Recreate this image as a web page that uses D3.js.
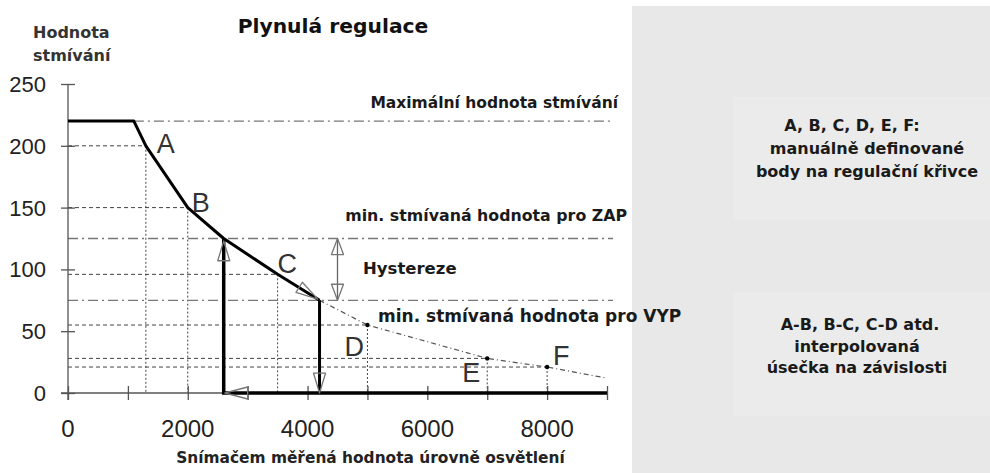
<!DOCTYPE html>
<html>
<head>
<meta charset="utf-8">
<script src="https://cdn.jsdelivr.net/npm/d3@7"></script>
<style>
  body { margin: 0; background: #fff; }
  svg { display: block; }
</style>
</head>
<body>
<svg id="chart" width="990" height="473"></svg>
<script>
// Plynula regulace - regulacni krivka s hysterezi

const xTickValues = [0, 1000, 2000, 3000, 4000, 5000, 6000, 7000, 8000, 9000];
const xTickLabels = [0, 2000, 4000, 6000, 8000];
const yTickValues = [0, 50, 100, 150, 200, 250];

// manualne definovane body
const pointNames = ["A", "B", "C", "D", "E", "F"];
const pointX = [1300, 2000, 3500, 5000, 7000, 8000];
const pointY = [200, 150, 96, 55, 28, 21];

// aktivni cast krivky (plna) a pokracovani pod VYP (tenka)
const activeCurve = [[0, 220], [1100, 220], [1300, 200], [2000, 150], [2600, 125], [3500, 96], [4200, 75]];
const offCurve = [[4200, 75], [5000, 55], [7000, 28], [8000, 21], [9000, 12]];

const maxLevel = 220;
const onLevel = 125;
const offLevel = 75;
const onX = 2600;
const offX = 4200;
const hystX = 4500;
const xMax = 9000;
const refEnd = 9100;

const note1 = ["A, B, C, D, E, F:", "manuálně definované", "body na regulační křivce"];
const note2 = ["A-B, B-C, C-D atd.", "interpolovaná", "úsečka na závislosti"];

const width = 990;
const height = 473;

const svg = d3.select("#chart");

const x = d3.scaleLinear().domain([0, 9000]).range([68, 607]);
const y = d3.scaleLinear().domain([0, 250]).range([393, 84]);

const textFont = "'DejaVu Sans', sans-serif";
const numFont = "'Liberation Sans', Arial, sans-serif";

// pravy sedy panel
svg.append("rect")
  .attr("x", 632).attr("y", 6)
  .attr("width", width - 632).attr("height", height - 6)
  .attr("fill", "#e8e8e8");
svg.append("rect")
  .attr("x", 733).attr("y", 97)
  .attr("width", width - 733).attr("height", 123)
  .attr("fill", "#ebebeb");
svg.append("rect")
  .attr("x", 733).attr("y", 292)
  .attr("width", width - 733).attr("height", 124)
  .attr("fill", "#ebebeb");

const points = pointNames.map((n, i) => ({ name: n, x: pointX[i], y: pointY[i] }));

// vodorovne carkovane k bodum
svg.append("g")
  .selectAll("line")
  .data(points)
  .enter()
  .append("line")
  .attr("x1", x(0))
  .attr("x2", (d) => x(d.x))
  .attr("y1", (d) => y(d.y))
  .attr("y2", (d) => y(d.y))
  .attr("stroke", "#444")
  .attr("stroke-width", 1)
  .attr("stroke-dasharray", "4,3");

// svisle teckovane k bodum
svg.append("g")
  .selectAll("line")
  .data(points)
  .enter()
  .append("line")
  .attr("x1", (d) => x(d.x))
  .attr("x2", (d) => x(d.x))
  .attr("y1", (d) => y(d.y))
  .attr("y2", y(0))
  .attr("stroke", "#444")
  .attr("stroke-width", 1)
  .attr("stroke-dasharray", "2,2");

// urovne (carka-tecka)
const levels = [
  { from: 1100, value: maxLevel },
  { from: 0, value: onLevel },
  { from: 0, value: offLevel },
];
svg.append("g")
  .selectAll("line")
  .data(levels)
  .enter()
  .append("line")
  .attr("x1", (d) => x(d.from))
  .attr("x2", x(refEnd))
  .attr("y1", (d) => y(d.value))
  .attr("y2", (d) => y(d.value))
  .attr("stroke", "#777")
  .attr("stroke-width", 1.3)
  .attr("stroke-dasharray", "10,4,2,4");

// osy
const yAxis = svg.append("g")
  .attr("transform", `translate(${x(0)},0)`)
  .call(d3.axisLeft(y).tickValues(yTickValues).tickSize(7).tickFormat(""));
yAxis.select(".domain").remove();
yAxis.selectAll(".tick line").attr("x1", -7).attr("x2", 7).attr("stroke", "#555").attr("stroke-width", 1.3);
svg.append("line")
  .attr("x1", x(0)).attr("x2", x(0))
  .attr("y1", y(250)).attr("y2", y(0) + 7)
  .attr("stroke", "#555").attr("stroke-width", 1.3);

const xAxis = svg.append("g")
  .attr("transform", `translate(0,${y(0)})`)
  .call(d3.axisBottom(x).tickValues(xTickValues).tickSize(7).tickFormat(""));
xAxis.select(".domain").remove();
xAxis.selectAll(".tick line").attr("y1", -7).attr("y2", 7).attr("stroke", "#555").attr("stroke-width", 1.3);
svg.append("line")
  .attr("x1", x(0) - 7).attr("x2", x(xMax))
  .attr("y1", y(0)).attr("y2", y(0))
  .attr("stroke", "#555").attr("stroke-width", 1.3);

svg.append("g")
  .selectAll("text")
  .data(yTickValues)
  .enter()
  .append("text")
  .attr("x", 46)
  .attr("y", (d) => y(d) + 8)
  .attr("text-anchor", "end")
  .attr("font-family", numFont)
  .attr("font-size", 22)
  .attr("fill", "#222")
  .text((d) => d);

svg.append("g")
  .selectAll("text")
  .data(xTickLabels)
  .enter()
  .append("text")
  .attr("x", (d) => x(d))
  .attr("y", 437)
  .attr("text-anchor", "middle")
  .attr("font-family", numFont)
  .attr("font-size", 24)
  .attr("fill", "#222")
  .text((d) => d);

// pokracovani krivky pod hranici VYP
const line = d3.line().x((d) => x(d[0])).y((d) => y(d[1]));
svg.append("path")
  .attr("d", line(offCurve))
  .attr("fill", "none")
  .attr("stroke", "#555")
  .attr("stroke-width", 1.2)
  .attr("stroke-dasharray", "5,3,1,3");

// plna regulacni krivka
svg.append("path")
  .attr("d", line(activeCurve))
  .attr("fill", "none")
  .attr("stroke", "#000")
  .attr("stroke-width", 3)
  .attr("stroke-linejoin", "round");

// zapnuti / vypnuti
svg.append("path")
  .attr("d", line([[onX, onLevel], [onX, 0], [xMax, 0]]))
  .attr("fill", "none")
  .attr("stroke", "#000")
  .attr("stroke-width", 3.5);
svg.append("path")
  .attr("d", line([[offX, offLevel], [offX, 0]]))
  .attr("fill", "none")
  .attr("stroke", "#000")
  .attr("stroke-width", 3);

// body D, E, F
svg.append("g")
  .selectAll("circle")
  .data(points.filter((d) => d.x >= 5000))
  .enter()
  .append("circle")
  .attr("cx", (d) => x(d.x))
  .attr("cy", (d) => y(d.y))
  .attr("r", 2.2)
  .attr("fill", "#000");

// hystereze
svg.append("line")
  .attr("x1", x(hystX)).attr("x2", x(hystX))
  .attr("y1", y(onLevel)).attr("y2", y(offLevel))
  .attr("stroke", "#666").attr("stroke-width", 1.3);

// sipky (otevrene trojuhelniky)
const arrows = [
  { from: [onX, 107], to: [onX, 123] },
  { from: [3000, 0], to: [onX + 20, 0] },
  { from: [offX, 16], to: [offX, 0] },
  { from: [3860, 85.5], to: [4170, 76] },
  { from: [hystX, 112], to: [hystX, onLevel] },
  { from: [hystX, 88], to: [hystX, offLevel] },
];
svg.append("g")
  .selectAll("path")
  .data(arrows)
  .enter()
  .append("path")
  .attr("d", (d) => {
    const x0 = x(d.from[0]), y0 = y(d.from[1]);
    const x1 = x(d.to[0]), y1 = y(d.to[1]);
    const len = Math.hypot(x1 - x0, y1 - y0);
    const ux = (x1 - x0) / len, uy = (y1 - y0) / len;
    const hw = 6;
    return `M${x1},${y1}L${x0 - uy * hw},${y0 + ux * hw}L${x0 + uy * hw},${y0 - ux * hw}Z`;
  })
  .attr("fill", "none")
  .attr("stroke", "#777")
  .attr("stroke-width", 1.3)
  .attr("stroke-linejoin", "round");

// popisky bodu
const labelOffsets = { A: [11, 7], B: [4, 4], C: [0, -1], D: [-23, 31], E: [-25, 24], F: [6, -2] };
svg.append("g")
  .selectAll("text")
  .data(points)
  .enter()
  .append("text")
  .attr("x", (d) => x(d.x) + labelOffsets[d.name][0])
  .attr("y", (d) => y(d.y) + labelOffsets[d.name][1])
  .attr("font-family", "'Liberation Sans', Arial, sans-serif")
  .attr("font-size", 27)
  .attr("fill", "#333")
  .text((d) => d.name);

// texty
const addText = (tx, ty, str, opts = {}) =>
  svg.append("text")
    .attr("x", tx)
    .attr("y", ty)
    .attr("text-anchor", opts.anchor || "start")
    .attr("font-family", textFont)
    .attr("font-weight", "bold")
    .attr("font-size", opts.size || 15.8)
    .attr("fill", opts.fill || "#1a1a1a")
    .text(str);

addText(333, 33, "Plynulá regulace", { anchor: "middle", size: 20.3, fill: "#111" });
addText(33, 38, "Hodnota", { size: 16, fill: "#333" });
addText(33, 61, "stmívání", { size: 16, fill: "#333" });

addText(618, y(maxLevel) - 13, "Maximální hodnota stmívání", { anchor: "end", size: 15.5 });
addText(627, y(onLevel) - 18, "min. stmívaná hodnota pro ZAP", { anchor: "end" });
addText(363, 274, "Hystereze", { size: 16.5 });
addText(378, y(offLevel) + 22, "min. stmívaná hodnota pro VYP", { size: 17 });

addText(x(5000) + 3, 463, "Snímačem měřená hodnota úrovně osvětlení", { anchor: "middle", size: 15.4, fill: "#222" });

const note1X = [852, 867, 867];
const note1Y = [131, 154, 177];
const note2X = [860, 857, 857];
const note2Y = [330, 351.5, 373];
note1.forEach((t, i) => addText(note1X[i], note1Y[i], t, { anchor: "middle", size: 16 }));
note2.forEach((t, i) => addText(note2X[i], note2Y[i], t, { anchor: "middle", size: 16 }));
</script>
</body>
</html>
